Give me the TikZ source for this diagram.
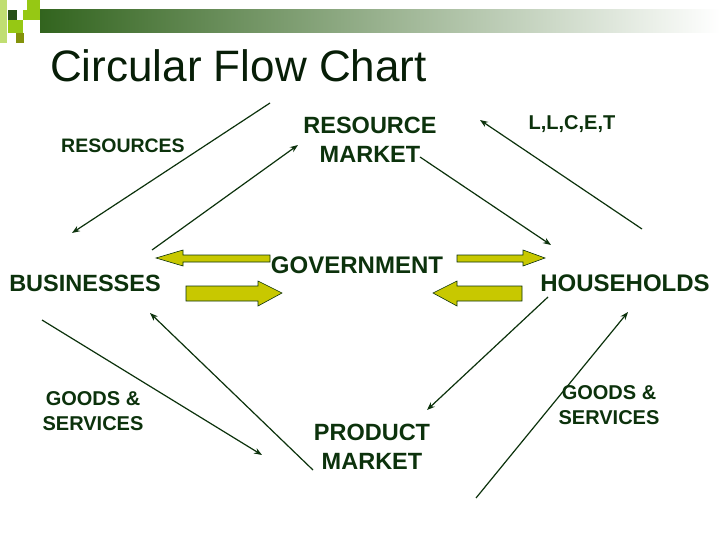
\documentclass[tikz,border=0pt]{standalone}
\usepackage{fontspec}
\setmainfont{Liberation Sans}
\usetikzlibrary{arrows.meta}
\begin{document}
\begin{tikzpicture}[x=1pt,y=-1pt,
  lbl/.style={text=txt,font=\bfseries\fontsize{#1}{#1}\selectfont,align=center,inner sep=0pt},
  flow/.style={draw=txt,line width=1.2pt,-{Stealth[length=8pt,width=6pt]}},
  blk/.style={fill=olive1,draw=txt,line width=0.6pt}]
\definecolor{txt}{RGB}{12,50,12}
\definecolor{olive1}{RGB}{200,200,0}
\definecolor{dgreen}{RGB}{50,100,30}
\definecolor{lgreen}{RGB}{150,200,20}
\useasboundingbox[fill=white] (0,0) rectangle (720,540);
% header
\shade[left color=dgreen,right color=white] (40,10) rectangle (720,33);
\fill[lgreen!60] (0,0) rectangle (7,43);
\fill[lgreen] (27,0) rectangle (40,10);
\fill[dgreen!80!black] (8,10) rectangle (17,20);
\fill[lgreen] (23,10) rectangle (40,20);
\fill[lgreen] (8,20) rectangle (23,33);
\fill[olive!80!green] (16,33) rectangle (24,43);
\node[anchor=base west,text=txt!60!black,font=\fontsize{44}{44}\selectfont,inner sep=0pt] (title) at (50,82) {Circular Flow Chart};
% labels
\node[lbl=19.5] (res) at (123,146) {RESOURCES};
\node[lbl=23.5] (bus) at (85,283) {BUSINESSES};
\node[lbl=23.5] (rm) at (370,140) {RESOURCE\\[6pt]MARKET};
\node[lbl=24] (gov) at (357,265) {GOVERNMENT};
\node[lbl=20] (llcet) at (572,124) {L,L,C,E,T};
\node[lbl=24] (hh) at (625,283) {HOUSEHOLDS};
\node[lbl=20] (gs1) at (93,411) {GOODS \&\\[5pt]SERVICES};
\node[lbl=20] (gs2) at (609,405) {GOODS \&\\[5pt]SERVICES};
\node[lbl=23.5] (pm) at (372,447) {PRODUCT\\[6pt]MARKET};
% endpoints
\coordinate (a1) at (270,103); \coordinate (a2) at (72,233);
\coordinate (b1) at (152,250); \coordinate (b2) at (298,145);
\coordinate (c1) at (420,157); \coordinate (c2) at (551,245);
\coordinate (d1) at (642,229); \coordinate (d2) at (480,120);
\coordinate (e1) at (42,320); \coordinate (e2) at (262,455);
\coordinate (f1) at (313,470); \coordinate (f2) at (150,313);
\coordinate (g1) at (548,297); \coordinate (g2) at (427,410);
\coordinate (h1) at (476,498); \coordinate (h2) at (628,312);
\foreach \s/\t in {a1/a2,b1/b2,c1/c2,d1/d2,e1/e2,f1/f2,g1/g2,h1/h2}
  \draw[flow] (\s) -- (\t);
% block arrows
\draw[blk] (156,258) -- (183,250) -- (183,255) -- (270,255) -- (270,262) -- (183,262) -- (183,266) -- cycle;
\draw[blk] (545,258) -- (523,250) -- (523,255) -- (457,255) -- (457,262) -- (523,262) -- (523,266) -- cycle;
\draw[blk] (282,293) -- (258,281) -- (258,286) -- (186,286) -- (186,301) -- (258,301) -- (258,306) -- cycle;
\draw[blk] (433,293) -- (457,281) -- (457,286) -- (522,286) -- (522,301) -- (457,301) -- (457,306) -- cycle;
\end{tikzpicture}
\end{document}
